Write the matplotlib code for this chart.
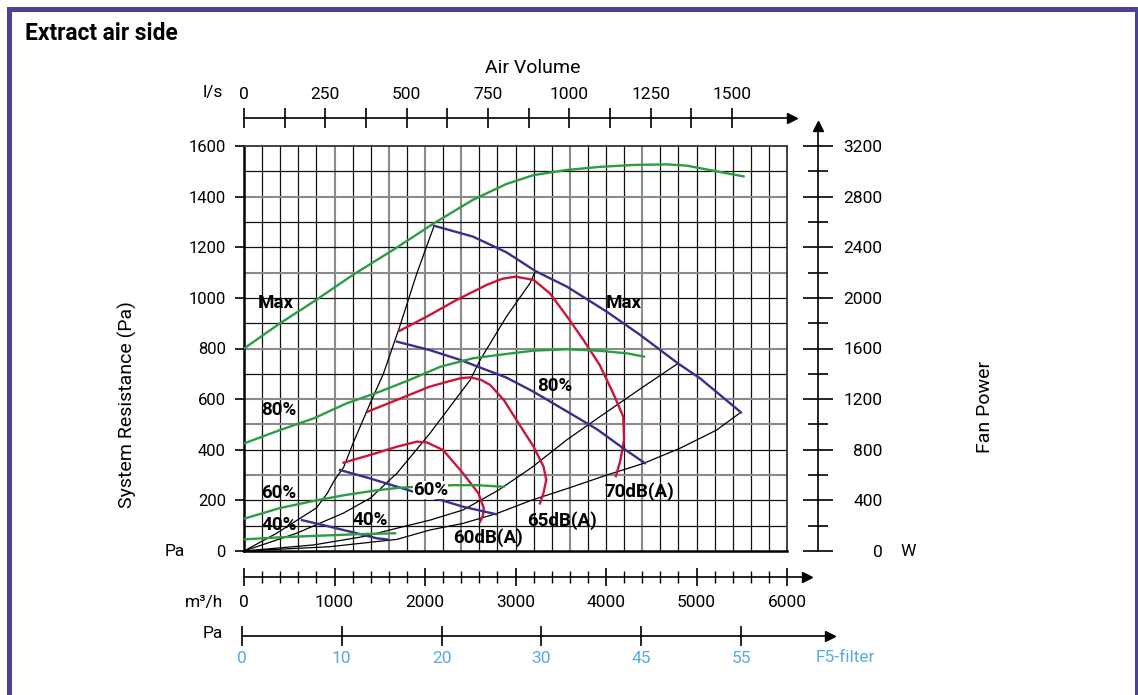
import matplotlib.pyplot as plt
import numpy as np
from matplotlib.patches import Rectangle

plt.rcParams['font.family'] = ['Roboto', 'DejaVu Sans']

# ---- data (air volume in m3/h, pressure in Pa, fan power in W) ----
# blue fan curves: pressure vs air volume
blue_max_q = [2100, 2530, 2900, 3220, 3570, 4010, 4380, 4800, 5040, 5490]
blue_max_p = [1285, 1242, 1180, 1106, 1044, 945, 853, 740, 682, 548]
blue_80_q = [1690, 2050, 2390, 2680, 2900, 3200, 3570, 3900, 4190, 4430]
blue_80_p = [827, 794, 755, 715, 685, 629, 551, 481, 406, 347]
blue_60_q = [1060, 1390, 1690, 2050, 2420, 2790]
blue_60_p = [320, 287, 254, 215, 175, 145]
blue_40_q = [640, 950, 1245, 1470, 1580]
blue_40_p = [122, 96, 70, 50, 46]

# red sound level curves
red_70_q = [1720, 2020, 2350, 2680, 2850, 3000, 3200, 3380, 3570, 3750, 3930, 4080, 4190, 4200, 4160, 4110]
red_70_p = [870, 926, 992, 1051, 1075, 1084, 1071, 1018, 926, 834, 735, 623, 531, 439, 360, 296]
red_65_q = [1370, 1690, 2050, 2280, 2400, 2500, 2620, 2720, 2870, 3010, 3200, 3310, 3340, 3310, 3270]
red_65_p = [551, 597, 649, 672, 683, 686, 676, 656, 597, 518, 412, 333, 281, 230, 188]
red_60_q = [1100, 1390, 1690, 1910, 2020, 2200, 2420, 2590, 2650, 2640, 2610]
red_60_p = [349, 379, 412, 432, 429, 399, 307, 228, 169, 140, 116]

# black system resistance curves
sys1_q = [0, 360, 650, 800, 920, 1000, 1100, 1210, 1390, 1540, 1720, 1910, 2100]
sys1_p = [0, 70, 136, 170, 228, 280, 330, 430, 580, 700, 886, 1097, 1284]
sys2_q = [0, 580, 1100, 1400, 1610, 1690, 2055, 2500, 2610, 2900, 3160, 3220]
sys2_p = [0, 70, 150, 210, 281, 307, 465, 676, 755, 926, 1058, 1106]
sys3_q = [0, 770, 1320, 1690, 2055, 2420, 2810, 3180, 3566, 3934, 4413, 4800]
sys3_p = [0, 24, 57, 90, 122, 162, 240, 330, 439, 531, 649, 742]
sys4_q = [0, 950, 1690, 2055, 2420, 2800, 3180, 3600, 4008, 4413, 4818, 5223, 5490]
sys4_p = [0, 17, 46, 83, 109, 149, 201, 250, 300, 346, 406, 478, 548]

# green fan power curves (W)
pow_max_q = [0, 400, 800, 1200, 1650, 2100, 2530, 2900, 3200, 3560, 3930, 4300, 4670, 4890, 5110, 5330, 5520]
pow_max_w = [1600, 1800, 1985, 2180, 2380, 2590, 2775, 2900, 2970, 3010, 3035, 3050, 3055, 3045, 3015, 2985, 2960]
pow_80_q = [0, 400, 770, 1135, 1500, 1830, 2170, 2530, 2900, 3200, 3570, 3930, 4230, 4420]
pow_80_w = [850, 956, 1048, 1167, 1259, 1352, 1456, 1523, 1557, 1583, 1594, 1582, 1562, 1536]
pow_60_q = [0, 400, 800, 1100, 1430, 1690, 1850, 2300, 2570, 2870]
pow_60_w = [255, 340, 400, 440, 476, 498, 505, 520, 520, 508]
pow_40_q = [0, 400, 730, 950, 1300, 1670]
pow_40_w = [92, 108, 118, 124, 134, 140]

# scales
ls_ticks = [0, 250, 500, 750, 1000, 1250, 1500]
m3h_ticks = [0, 1000, 2000, 3000, 4000, 5000, 6000]
filter_labels = ['0', '10', '20', '30', '45', '55']
pa_ticks = [0, 200, 400, 600, 800, 1000, 1200, 1400, 1600]
w_ticks = [0, 400, 800, 1200, 1600, 2000, 2400, 2800, 3200]

GREEN = '#2a9d45'
BLUE = '#3b2f8c'
RED = '#c8173a'
LBLUE = '#5aaadc'

W, H = 1138, 695


def fx(px):
    return px / W


def fy(py):
    return 1 - py / H


fig = plt.figure(figsize=(W / 100, H / 100), dpi=100)

# purple frame
fig.add_artist(Rectangle((fx(8.5), -0.05), fx(1136.5) - fx(8.5), fy(8.5) + 0.05,
                         transform=fig.transFigure, fill=False, ec='#4a4396', lw=3.6))

# ---- main grid ----
ax = fig.add_axes([fx(244), fy(551), 543 / W, 405 / H])
ax.set_xlim(0, 6000)
ax.set_ylim(0, 1600)
gray_v = [1000, 1600, 2000, 2400, 3600, 4400]
gray_h = [300, 500, 600, 800, 1100, 1400]
for q in range(200, 6000, 200):
    if q in gray_v:
        ax.axvline(q, color='#8a8a8a', lw=1.5, zorder=1)
    else:
        ax.axvline(q, color='#111111', lw=0.9, zorder=1)
for p in range(100, 1600, 100):
    if p in gray_h:
        ax.axhline(p, color='#8a8a8a', lw=1.5, zorder=1)
    else:
        ax.axhline(p, color='#111111', lw=0.9, zorder=1)
for side in ['left', 'bottom']:
    ax.spines[side].set_linewidth(1.8)
for side in ['top', 'right']:
    ax.spines[side].set_linewidth(1.3)
    ax.spines[side].set_color('#333333')
ax.set_xticks([])
ax.set_yticks(pa_ticks)
ax.tick_params(axis='y', direction='out', length=6.5, width=1.2, pad=6.5, labelsize=12)

for q, p in [(sys1_q, sys1_p), (sys2_q, sys2_p), (sys3_q, sys3_p), (sys4_q, sys4_p)]:
    ax.plot(q, p, color='black', lw=0.9, zorder=3)
for q, p in [(red_70_q, red_70_p), (red_65_q, red_65_p), (red_60_q, red_60_p)]:
    ax.plot(q, p, color=RED, lw=1.7, zorder=4, solid_joinstyle='round')
for q, p in [(blue_max_q, blue_max_p), (blue_80_q, blue_80_p),
             (blue_60_q, blue_60_p), (blue_40_q, blue_40_p)]:
    ax.plot(q, p, color=BLUE, lw=1.7, zorder=4, solid_joinstyle='round')

# fan power on its own scale (0-3200 W)
ax_g = ax.twinx()
ax_g.set_ylim(0, 3200)
ax_g.axis('off')
for q, w in [(pow_max_q, pow_max_w), (pow_80_q, pow_80_w),
             (pow_60_q, pow_60_w), (pow_40_q, pow_40_w)]:
    ax_g.plot(q, w, color=GREEN, lw=1.7, zorder=5, solid_joinstyle='round')

lab = dict(transform=ax.transData, ha='center', va='center', fontsize=13.5,
           fontweight='bold', zorder=10)
ax_g.text(348, 978, 'Max', **lab)
ax_g.text(4194, 978, 'Max', **lab)
ax_g.text(387, 557, '80%', **lab)
ax_g.text(3437, 652, '80%', **lab)
ax_g.text(381, 231, '60%', **lab)
ax_g.text(2061, 241, '60%', bbox=dict(fc='white', ec='none', pad=0.3), **lab)
ax_g.text(387, 101, '40%', **lab)
ax_g.text(1389, 122, '40%', **lab)
ax_g.text(2696, 51, '60dB(A)', **lab)
ax_g.text(3511, 122, '65dB(A)', **lab)
ax_g.text(4365, 234, '70dB(A)', **lab)

# ---- top l/s scale ----
ax_t = fig.add_axes([fx(244), fy(117.7), (792 - 244) / W, 0.0005])
ax_t.set_xlim(0, (792 - 244) / (488 / 1500))
ax_t.set_yticks([])
for side in ['left', 'right', 'top']:
    ax_t.spines[side].set_visible(False)
ax_t.spines['bottom'].set_linewidth(1.2)
ax_t.set_xticks(ls_ticks)
ax_t.set_xticks([125, 375, 625, 875, 1125, 1375], minor=True)
ax_t.tick_params(axis='x', which='both', direction='inout', length=14, width=1.2,
                 bottom=True, top=False, labelbottom=False, labeltop=True,
                 pad=3.8, labelsize=12.5)
ax_t.plot(1, 0, '>', color='black', ms=7, transform=ax_t.transAxes, clip_on=False)

# ---- bottom m3/h scale ----
ax_b = fig.add_axes([fx(244), fy(577), (806.7 - 244) / W, 0.0005])
ax_b.set_xlim(0, (806.7 - 244) / (543 / 6000))
ax_b.set_yticks([])
for side in ['left', 'right', 'top']:
    ax_b.spines[side].set_visible(False)
ax_b.spines['bottom'].set_linewidth(1.2)
ax_b.set_xticks(m3h_ticks)
ax_b.set_xticks(np.arange(0, 6001, 200), minor=True)
ax_b.tick_params(axis='x', which='major', direction='inout', length=13, width=1.2,
                 pad=6.8, labelsize=12.5)
ax_b.tick_params(axis='x', which='minor', direction='inout', length=8.5, width=1.0)
ax_b.plot(1, 0, '>', color='black', ms=7, transform=ax_b.transAxes, clip_on=False)

# ---- filter pressure drop scale ----
ax_f = fig.add_axes([fx(242), fy(635.7), (830 - 242) / W, 0.0005])
ax_f.set_xlim(0, (830 - 242) / 99.8)
ax_f.set_yticks([])
for side in ['left', 'right', 'top']:
    ax_f.spines[side].set_visible(False)
ax_f.spines['bottom'].set_linewidth(1.2)
ax_f.set_xticks(range(len(filter_labels)))
ax_f.set_xticklabels(filter_labels)
ax_f.tick_params(axis='x', direction='inout', length=14.5, width=1.2, pad=4,
                 labelsize=12.5, labelcolor=LBLUE)
ax_f.plot(1, 0, '>', color='black', ms=7, transform=ax_f.transAxes, clip_on=False)

# ---- right fan power scale ----
ax_r = fig.add_axes([fx(818), fy(551), 0.0005, (551 - 125.7) / H])
ax_r.set_ylim(0, (551 - 125.7) / (405 / 3200))
ax_r.set_xticks([])
for side in ['bottom', 'right', 'top']:
    ax_r.spines[side].set_visible(False)
ax_r.spines['left'].set_linewidth(1.2)
ax_r.set_yticks(w_ticks)
ax_r.set_yticks(np.arange(200, 3200, 400), minor=True)
ax_r.tick_params(axis='y', which='major', direction='inout', length=21.6, width=1.2,
                 left=True, right=False, labelleft=False, labelright=True,
                 pad=35.3, labelsize=12.5)
ax_r.tick_params(axis='y', which='minor', direction='inout', length=13.7, width=1.2)
for t in ax_r.get_yticklabels():
    t.set_ha('right')
ax_r.plot(0, 1, '^', color='black', ms=7, transform=ax_r.transAxes, clip_on=False)

# ---- texts ----
fig.text(fx(25), fy(34), 'Extract air side', fontsize=16.4, fontweight='bold', va='center')
fig.text(fx(533), fy(68), 'Air Volume', fontsize=14, ha='center', va='center')
fig.text(fx(213), fy(92), 'l/s', fontsize=12.5, ha='center', va='center')
fig.text(fx(127), fy(405), 'System Resistance (Pa)', fontsize=14, rotation=90,
         ha='center', va='center')
fig.text(fx(175), fy(551), 'Pa', fontsize=12.5, ha='center', va='center')
fig.text(fx(985), fy(407), 'Fan Power', fontsize=14, rotation=90, ha='center', va='center')
fig.text(fx(908), fy(551), 'W', fontsize=12.5, ha='center', va='center')
fig.text(fx(223), fy(602), 'm³/h', fontsize=12.5, ha='right', va='center')
fig.text(fx(213), fy(633), 'Pa', fontsize=12.5, ha='center', va='center')
fig.text(fx(845), fy(657), 'F5-filter', fontsize=12.5, ha='center', va='center', color=LBLUE)

fig.savefig('out.png', dpi=100)
